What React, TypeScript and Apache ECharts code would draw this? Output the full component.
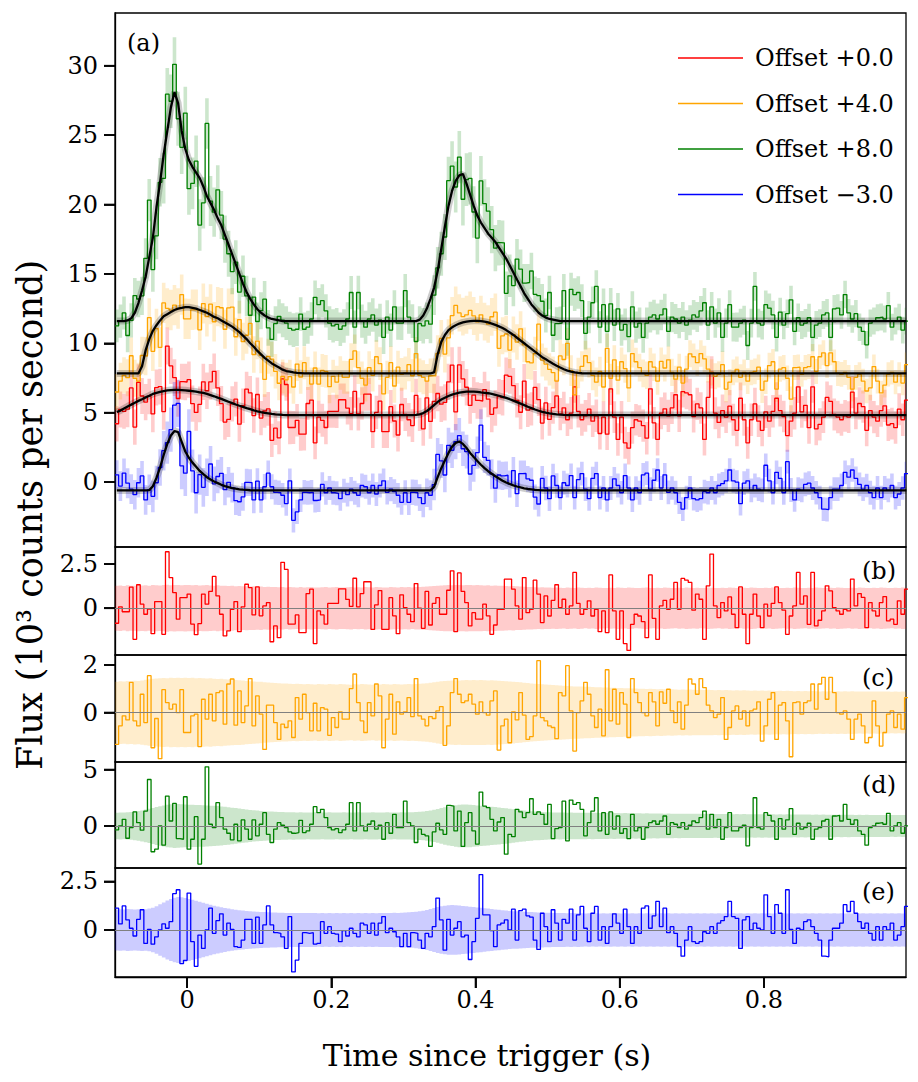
import { useEffect, useRef } from "react";
import * as echarts from "echarts";

const FONT = "'DejaVu Serif', serif";

// ---- time grid ----
const T_START = -0.1;
const BIN_WIDTH = 0.005;
const N_BINS = 220;
const X_MIN = -0.1;
const X_MAX = 0.997;
const X_TICKS = [0, 0.2, 0.4, 0.6, 0.8];

// ---- axes ----
const MAIN_Y_TICKS = [0, 5, 10, 15, 20, 25, 30];
const B_TICKS = [0, 2.5];
const C_TICKS = [0, 2];
const D_TICKS = [0, 5];
const E_TICKS = [0, 2.5];
const MAIN_RANGE = [-4.68, 33.8];
const B_RANGE = [-2.65, 3.47];
const C_RANGE = [-2.08, 2.42];
const D_RANGE = [-3.73, 5.67];
const E_RANGE = [-2.42, 3.19];

const OFFSETS = [0, 4, 8, -3];
const LEGEND_LABELS = ["Offset +0.0", "Offset +4.0", "Offset +8.0", "Offset \u22123.0"];
const PANEL_LABELS = ["(a)", "(b)", "(c)", "(d)", "(e)"];

// ---- models (10^3 counts/s, before offset), one value per bin ----
const RED_MODEL = [
5.05,5.15,5.3,5.45,5.58,5.72,5.85,5.97,6.1,6.22,6.35,6.43,6.5,6.56,6.6,6.63,6.64,6.64,6.63,6.61,
6.58,6.55,6.52,6.47,6.42,6.35,6.27,6.18,6.08,5.99,5.89,5.79,5.69,5.59,5.5,5.42,5.33,5.25,5.17,5.1,
5.04,4.99,4.95,4.91,4.88,4.86,4.84,4.83,4.83,4.83,4.83,4.83,4.83,4.83,4.83,4.83,4.83,4.83,4.83,4.83,
4.83,4.83,4.83,4.83,4.83,4.83,4.83,4.83,4.83,4.83,4.83,4.83,4.83,4.83,4.83,4.83,4.83,4.83,4.83,4.83,
4.83,4.83,4.83,4.84,4.88,4.97,5.12,5.32,5.55,5.78,5.95,6.08,6.2,6.3,6.38,6.44,6.48,6.51,6.52,6.52,
6.5,6.46,6.43,6.4,6.35,6.29,6.22,6.14,6.06,5.97,5.87,5.76,5.65,5.54,5.43,5.33,5.23,5.14,5.06,5.0,
4.95,4.91,4.88,4.86,4.84,4.83,4.83,4.83,4.83,4.83,4.83,4.83,4.83,4.83,4.83,4.83,4.83,4.83,4.83,4.83,
4.83,4.83,4.83,4.83,4.83,4.83,4.83,4.83,4.83,4.83,4.83,4.83,4.83,4.83,4.83,4.83,4.83,4.83,4.83,4.83,
4.83,4.83,4.83,4.83,4.83,4.83,4.83,4.83,4.83,4.83,4.83,4.83,4.83,4.83,4.83,4.83,4.83,4.83,4.83,4.83,
4.83,4.83,4.83,4.83,4.83,4.83,4.83,4.83,4.83,4.83,4.83,4.83,4.83,4.83,4.83,4.83,4.83,4.83,4.83,4.83,
4.83,4.83,4.83,4.83,4.83,4.83,4.83,4.83,4.83,4.83,4.83,4.83,4.83,4.83,4.83,4.83,4.83,4.83,4.83,4.83,
];
const ORANGE_MODEL = [
3.83,3.83,3.83,3.83,3.83,3.83,3.83,4.35,5.5,6.3,6.9,7.3,7.65,7.95,8.1,8.25,8.4,8.5,8.55,8.6,
8.6,8.55,8.5,8.4,8.3,8.2,8.05,7.9,7.8,7.65,7.5,7.35,7.2,7.0,6.8,6.55,6.3,6.0,5.75,5.45,
5.2,4.95,4.75,4.55,4.4,4.25,4.1,4.0,3.95,3.9,3.87,3.85,3.83,3.83,3.83,3.83,3.83,3.83,3.83,3.83,
3.83,3.83,3.83,3.83,3.83,3.83,3.83,3.83,3.83,3.83,3.83,3.83,3.83,3.83,3.83,3.83,3.83,3.83,3.83,3.83,
3.83,3.83,3.83,3.83,3.83,3.83,3.83,3.83,3.9,5.2,6.1,6.6,6.95,7.15,7.3,7.42,7.5,7.56,7.6,7.62,
7.62,7.6,7.56,7.5,7.42,7.33,7.22,7.1,6.95,6.78,6.6,6.4,6.2,6.0,5.8,5.6,5.4,5.2,5.0,4.85,
4.68,4.52,4.38,4.25,4.13,4.03,3.96,3.9,3.86,3.84,3.83,3.83,3.83,3.83,3.83,3.83,3.83,3.83,3.83,3.83,
3.83,3.83,3.83,3.83,3.83,3.83,3.83,3.83,3.83,3.83,3.83,3.83,3.83,3.83,3.83,3.83,3.83,3.83,3.83,3.83,
3.83,3.83,3.83,3.83,3.83,3.83,3.83,3.83,3.83,3.83,3.83,3.83,3.83,3.83,3.83,3.83,3.83,3.83,3.83,3.83,
3.83,3.83,3.83,3.83,3.83,3.83,3.83,3.83,3.83,3.83,3.83,3.83,3.83,3.83,3.83,3.83,3.83,3.83,3.83,3.83,
3.83,3.83,3.83,3.83,3.83,3.83,3.83,3.83,3.83,3.83,3.83,3.83,3.83,3.83,3.83,3.83,3.83,3.83,3.83,3.83,
];
const GREEN_MODEL = [
3.6,3.6,3.6,3.65,3.8,4.2,4.9,5.8,6.8,8.2,9.6,11.8,13.6,15.6,17.3,19.0,20.1,19.3,17.3,16.0,
15.2,14.7,14.3,13.9,13.3,12.6,12.1,11.6,11.0,10.5,9.8,9.1,8.4,7.7,7.0,6.3,5.7,5.2,4.8,4.45,
4.2,4.0,3.85,3.75,3.7,3.65,3.6,3.6,3.6,3.6,3.6,3.6,3.6,3.6,3.6,3.6,3.6,3.6,3.6,3.6,
3.6,3.6,3.6,3.6,3.6,3.6,3.6,3.6,3.6,3.6,3.6,3.6,3.6,3.6,3.6,3.6,3.6,3.6,3.6,3.6,
3.6,3.6,3.6,3.6,3.7,4.0,4.5,5.2,6.0,7.2,8.8,10.4,11.9,13.0,13.7,14.1,14.2,13.5,12.7,11.9,
11.2,10.7,10.3,9.9,9.6,9.3,8.9,8.5,8.1,7.6,7.1,6.6,6.1,5.6,5.2,4.8,4.5,4.2,4.0,3.85,
3.75,3.7,3.65,3.6,3.6,3.6,3.6,3.6,3.6,3.6,3.6,3.6,3.6,3.6,3.6,3.6,3.6,3.6,3.6,3.6,
3.6,3.6,3.6,3.6,3.6,3.6,3.6,3.6,3.6,3.6,3.6,3.6,3.6,3.6,3.6,3.6,3.6,3.6,3.6,3.6,
3.6,3.6,3.6,3.6,3.6,3.6,3.6,3.6,3.6,3.6,3.6,3.6,3.6,3.6,3.6,3.6,3.6,3.6,3.6,3.6,
3.6,3.6,3.6,3.6,3.6,3.6,3.6,3.6,3.6,3.6,3.6,3.6,3.6,3.6,3.6,3.6,3.6,3.6,3.6,3.6,
3.6,3.6,3.6,3.6,3.6,3.6,3.6,3.6,3.6,3.6,3.6,3.6,3.6,3.6,3.6,3.6,3.6,3.6,3.6,3.6,
];
const BLUE_MODEL = [
2.4,2.4,2.4,2.4,2.4,2.4,2.4,2.4,2.4,2.42,2.7,3.3,4.05,4.95,5.75,6.35,6.68,6.6,5.9,5.2,
4.75,4.4,4.1,3.8,3.57,3.35,3.18,3.04,2.92,2.8,2.71,2.63,2.57,2.52,2.48,2.45,2.43,2.41,2.4,2.4,
2.4,2.4,2.4,2.4,2.4,2.4,2.4,2.4,2.4,2.4,2.4,2.4,2.4,2.4,2.4,2.4,2.4,2.4,2.4,2.4,
2.4,2.4,2.4,2.4,2.4,2.4,2.4,2.4,2.4,2.4,2.4,2.4,2.4,2.4,2.4,2.4,2.4,2.4,2.4,2.4,
2.4,2.4,2.4,2.4,2.4,2.4,2.4,2.4,2.65,3.35,4.0,4.55,5.1,5.55,5.82,5.92,5.75,5.45,5.1,4.8,
4.52,4.25,4.0,3.78,3.6,3.42,3.25,3.1,2.97,2.86,2.76,2.68,2.61,2.55,2.5,2.47,2.44,2.42,2.4,2.4,
2.4,2.4,2.4,2.4,2.4,2.4,2.4,2.4,2.4,2.4,2.4,2.4,2.4,2.4,2.4,2.4,2.4,2.4,2.4,2.4,
2.4,2.4,2.4,2.4,2.4,2.4,2.4,2.4,2.4,2.4,2.4,2.4,2.4,2.4,2.4,2.4,2.4,2.4,2.4,2.4,
2.4,2.4,2.4,2.4,2.4,2.4,2.4,2.4,2.4,2.4,2.4,2.4,2.4,2.4,2.4,2.4,2.4,2.4,2.4,2.4,
2.4,2.4,2.4,2.4,2.4,2.4,2.4,2.4,2.4,2.4,2.4,2.4,2.4,2.4,2.4,2.4,2.4,2.4,2.4,2.4,
2.4,2.4,2.4,2.4,2.4,2.4,2.4,2.4,2.4,2.4,2.4,2.4,2.4,2.4,2.4,2.4,2.4,2.4,2.4,2.4,
];

// ---- residuals (data - model), one value per bin ----
const RED_RESID = [
-0.85,0.08,-0.2,-0.2,1.2,-1.76,1.33,0.23,-0.34,-0.05,
-1.44,0.38,0.38,-1.48,3.2,1.74,0.89,-0.62,0.6,0.6,
0.8,-0.9,-1.5,-0.87,0.8,0.23,0.95,1.8,0.7,-0.34,
-1.57,-1.28,-0.06,0.38,-1.33,0.08,1.36,1.17,-0.38,1.21,
-0.43,0.13,0.32,-1.9,-1.0,-1.67,2.6,2.2,-0.9,-0.9,
-0.38,-1.38,-1.38,0.83,1.08,-2.0,-0.15,-0.38,-0.9,0.27,
0.27,0.27,1.1,1.1,0.5,0.1,1.7,0.08,0.83,1.5,
1.5,-1.2,0.19,1.0,-1.2,-1.2,0.6,-0.43,-1.44,0.76,
0.04,-0.34,-0.76,1.4,0,-1.14,0.95,-0.95,0.27,0.6,
-0.34,-0.34,1.02,2.12,-1.33,2.0,0.95,0.32,-1.0,-0.25,
-0.62,-0.62,0.23,-0.43,-1.48,-0.95,-0.06,-0.06,1.65,1.65,
1.08,0.13,-0.62,1.74,-0.25,-0.06,1.59,0.8,-0.81,0.7,
-0.44,0.45,1.33,0.04,0.51,-0.34,0.13,2.03,0.27,-0.34,
-0.06,0.42,-0.44,-0.06,-1.33,-0.15,-1.38,1.89,-0.15,-1.76,
-0.15,-2.0,-2.39,-0.91,-0.34,-0.44,-0.76,-1.67,1.89,-0.57,
-1.76,0.13,0.45,-0.06,0.51,1.46,-0.06,1.69,1.59,1.46,
-0.11,0.8,0.51,-1.76,1.27,3.07,0.13,-0.53,0.32,-0.15,
0.64,-0.34,-1.1,1.21,-0.34,-2.0,-0.34,0.8,-0.44,-1.1,
0.23,-0.44,0.27,1.21,0.32,-0.11,-1.48,-0.44,0.13,2.03,
0.23,0.7,-0.91,2.03,-1.0,-0.68,-0.15,1.27,0.98,0.04,
-0.15,-0.34,-0.06,-0.15,1.65,0.13,0.83,0.61,-1.1,0.32,
-0.15,-0.44,0.32,0.66,-0.72,-0.62,-0.91,0.42,-0.34,1.08,
];
const ORANGE_RESID = [
-1.34,-0.56,-0.14,-0.31,1.27,-0.35,-0.56,0.77,-0.42,1.55,
-1.48,-0.25,-1.94,0.96,0.42,0.14,0.35,0,0.96,-0.84,
-0.84,-0.14,-0.07,-1.43,0.56,-0.28,0.77,-0.35,0.84,0.91,
-0.49,1.2,1.41,-0.53,0.91,-0.42,0.28,1.43,-0.56,0.7,
-0.07,-1.55,0.31,0.31,-0.42,-1.13,-0.49,-0.63,-0.35,-1.05,
0.63,-0.28,0.77,0,-0.77,0.39,-0.77,0.21,0.14,-0.96,
-0.21,-0.63,0.03,-0.28,-0.28,1.01,1.62,0.42,-0.35,-0.84,
0.42,-0.14,1.2,0.7,-1.48,-0.28,0.77,-0.91,0.45,-0.07,
0.03,0.63,-0.17,1.43,-0.14,-0.28,-0.56,-0.17,-0.25,0.07,
0.25,-1.38,-0.56,0.84,1.43,0.77,0.42,0.49,0.77,0.35,
-0.07,0.45,0,-0.11,0.49,0.91,-1.58,-0.56,-0.28,-1.27,
0.03,-0.31,0.84,-0.11,-1.13,-1.01,-0.14,2.18,-0.21,-0.35,
-0.56,-0.63,-1.1,0.84,0.7,1.97,0.07,-1.62,0,0.49,
1.27,0.77,-0.14,-0.63,0.14,-0.98,1.8,-0.35,0.98,-0.49,
0.84,0.35,-1.05,1.43,0.84,0.42,0,-0.14,0.84,0.45,
-0.56,0.87,0.39,0.98,0.07,-0.42,0.45,-0.7,0.31,1.41,
1.2,0.77,1.43,1.05,0.31,0.07,-0.21,-0.07,0.63,-1.13,
-0.63,0.07,0.28,-0.28,0.07,-0.56,0.07,0.14,0.45,-1.2,
-0.56,0.56,0.84,-1.13,0.31,0.42,-0.35,-1.86,0.42,0.45,
-0.07,0.42,0.49,1.2,0.14,1.2,1.48,0.56,1.48,0.84,
0,-0.07,0.07,-0.28,-1.13,-0.28,-0.07,-0.56,-1.27,-1.05,
0.49,-0.56,-1.41,-0.84,-0.07,0.07,-0.63,-0.07,-0.7,0.63,
];
const GREEN_RESID = [
-0.35,0,0.59,-1.09,-0.15,1.24,0.29,-0.38,1.32,4.12,
-2.29,-2.06,0,-1.71,2.65,0.44,2.0,-1.12,-1.18,2.59,
-2.06,-1.18,0.82,-3.38,-1.18,5.24,0.15,-0.15,2.06,0.74,
-0.29,-0.65,-1.24,0.15,-1.32,0.53,-0.29,-1.18,0.53,-0.88,
0.15,1.18,-0.74,-1.47,-0.29,0.29,0.06,-0.15,-0.53,-0.65,
-0.59,0.5,-0.59,-0.44,0.15,1.71,1.18,1.47,0.74,-0.15,
-0.35,-0.24,-0.59,-0.35,0.15,2.06,-0.44,2.06,0,-0.44,
0.15,0.44,-0.29,0.06,-1.18,0.29,-0.65,1.03,-0.15,-0.15,
2.2,0.29,0,-1.47,-0.29,-0.74,-0.88,-1.82,-0.53,0.24,
-0.35,-0.74,1.82,1.76,-0.44,1.32,-1.82,0.29,1.18,-0.44,
-1.62,3.0,1.76,1.62,0.59,-0.44,0.35,0.74,-2.5,-0.74,
-0.94,1.47,1.24,0.74,1.18,2.41,1.03,1.24,1.03,0.15,
1.91,-1.12,-0.24,-0.15,2.2,-1.32,2.29,1.91,2.06,1.47,
-0.88,0.29,1.32,2.5,-0.44,1.18,-0.74,1.24,-0.29,0.88,
-0.65,-0.24,-1.12,1.03,-0.44,-0.15,-1.18,-0.15,0.29,0.44,
0.15,0.44,0.88,-0.74,0.29,0.15,-0.15,0.29,-0.29,0.06,
0.44,0.29,0.74,1.32,-0.29,1.03,-0.15,0.59,-1.18,-0.15,
1.18,-0.44,-0.44,-0.15,0.06,-1.76,-0.15,2.5,-0.15,-0.29,
1.18,0.94,0.44,-1.18,0.65,-0.29,0.53,1.53,-0.74,0.24,
-0.29,-0.15,0.24,-1.18,-0.29,-0.15,0.44,0.59,-1.18,0.88,
0.94,0.44,1.91,0.59,0.15,0.53,-0.44,-0.74,-1.71,-0.15,
0,0.24,0.29,0.15,1.12,-0.44,0,0.29,-0.65,0,
];
const BLUE_RESID = [
1.12,0.31,1.24,0.52,0.09,-0.31,0.55,1.04,-0.69,0.03,
-0.73,-0.35,0,0.31,0.09,0.43,1.87,2.07,-1.73,-1.56,
1.9,-0.6,-1.87,-0.26,-0.95,0,1.12,-0.17,0.48,0.83,
-0.26,0.35,0.03,-0.86,-0.9,-0.52,0.55,0.55,-0.69,0.66,
-0.69,0.26,1.24,0.26,-0.14,-0.17,-0.35,-0.95,0.69,-2.16,
-1.55,-0.69,-0.14,-0.17,-0.14,-0.73,-0.69,0.43,-0.17,0.17,
-0.17,-0.21,-0.6,-0.03,-0.31,0.09,-0.17,-0.35,0.35,0.26,
-0.17,0.35,-0.26,0.35,0.69,-0.14,0.09,-0.09,-0.35,-0.86,
-0.17,-0.86,-0.14,-0.17,-0.52,-0.95,-0.17,-0.35,0.17,1.64,
0.52,-1.04,0.55,-0.26,0.09,0.43,-0.35,-0.26,-1.52,-0.6,
0.6,2.85,0.78,0.78,-0.03,-0.86,0.26,0.35,0.52,0,
1.07,-0.52,1.0,1.07,0.73,0.66,-0.52,-1.0,0.86,0.17,
-0.6,1.04,0.35,-0.52,0.55,0.35,1.07,-0.52,0.78,1.21,
0.09,-0.6,0.86,1.21,-0.52,0.17,-0.69,0.17,0.83,0.35,
-0.17,1.07,0.17,-0.69,0.17,-0.17,1.12,1.24,0.09,0.73,
1.47,0.17,1.12,-0.14,0.17,-0.17,-0.86,-1.35,-0.52,0.17,
-0.6,-0.69,-0.6,-0.09,-0.17,0.17,-0.17,0.35,0.48,0.69,
1.47,0.69,0.6,-0.95,0.52,0.69,0,0.35,0.09,0,
1.81,0.69,-0.17,1.3,0.86,-0.17,2.07,0.03,-0.69,0.09,
0,0.43,0.52,0.17,-0.17,-0.52,-1.35,-1.38,-0.52,0.09,
0.09,0.35,1.3,0.95,1.47,0.86,0.43,0.09,0.35,-0.17,
-0.52,0.17,-0.52,0.17,0,0.35,-0.52,-0.26,0.17,1.21,
];

// ---- 1-sigma errors per bin ----
const RED_ERR = [
1.27,1.29,1.26,1.3,1.28,1.27,1.31,1.29,1.3,1.28,1.32,1.3,1.29,1.31,1.33,1.3,1.32,1.31,1.3,1.32,
1.31,1.3,1.32,1.29,1.3,1.31,1.29,1.28,1.3,1.27,1.28,1.26,1.27,1.25,1.26,1.24,1.25,1.23,1.24,1.22,
1.23,1.21,1.22,1.2,1.21,1.19,1.2,1.18,1.2,1.19,1.17,1.2,1.18,1.19,1.2,1.18,1.17,1.19,1.2,1.18,
1.19,1.2,1.18,1.17,1.19,1.2,1.18,1.19,1.17,1.2,1.19,1.18,1.2,1.19,1.17,1.18,1.2,1.19,1.18,1.2,
1.19,1.2,1.18,1.21,1.2,1.22,1.23,1.25,1.26,1.28,1.29,1.3,1.31,1.3,1.32,1.31,1.3,1.32,1.31,1.3,
1.31,1.3,1.29,1.3,1.28,1.29,1.27,1.28,1.26,1.25,1.26,1.24,1.23,1.22,1.21,1.2,1.19,1.18,1.19,1.17,
1.18,1.16,1.17,1.16,1.15,1.17,1.16,1.15,1.17,1.16,1.14,1.16,1.15,1.17,1.16,1.15,1.14,1.16,1.15,1.17,
1.16,1.15,1.17,1.16,1.14,1.15,1.16,1.17,1.15,1.14,1.16,1.15,1.17,1.16,1.15,1.14,1.16,1.15,1.17,1.16,
1.15,1.16,1.14,1.15,1.17,1.16,1.15,1.14,1.16,1.15,1.17,1.16,1.15,1.14,1.16,1.15,1.17,1.16,1.14,1.15,
1.16,1.15,1.17,1.16,1.15,1.14,1.16,1.15,1.17,1.16,1.15,1.14,1.16,1.15,1.17,1.16,1.15,1.14,1.16,1.15,
1.17,1.16,1.15,1.14,1.16,1.15,1.17,1.16,1.15,1.14,1.16,1.15,1.17,1.16,1.15,1.14,1.16,1.15,1.17,1.16,
];
const ORANGE_ERR = [
1.3,1.32,1.31,1.33,1.32,1.34,1.33,1.35,1.38,1.4,1.42,1.43,1.44,1.45,1.44,1.46,1.45,1.46,1.45,1.46,
1.45,1.46,1.44,1.45,1.44,1.43,1.44,1.42,1.41,1.42,1.4,1.39,1.38,1.37,1.36,1.35,1.33,1.32,1.31,1.3,
1.29,1.27,1.26,1.25,1.24,1.23,1.22,1.22,1.21,1.2,1.21,1.2,1.19,1.2,1.19,1.18,1.2,1.19,1.18,1.2,
1.19,1.18,1.2,1.19,1.18,1.17,1.19,1.18,1.2,1.19,1.18,1.17,1.19,1.18,1.2,1.19,1.18,1.2,1.19,1.18,
1.19,1.2,1.19,1.2,1.21,1.22,1.23,1.25,1.27,1.3,1.32,1.33,1.34,1.35,1.36,1.35,1.36,1.37,1.36,1.37,
1.36,1.37,1.36,1.35,1.36,1.35,1.34,1.33,1.32,1.31,1.3,1.28,1.27,1.25,1.24,1.22,1.21,1.2,1.19,1.18,
1.17,1.16,1.15,1.14,1.13,1.12,1.11,1.1,1.1,1.09,1.08,1.08,1.07,1.06,1.06,1.05,1.05,1.04,1.04,1.03,
1.03,1.02,1.02,1.01,1.01,1.0,1.0,0.99,1.0,0.99,0.98,0.99,0.98,0.97,0.98,0.97,0.96,0.97,0.96,0.97,
0.96,0.95,0.96,0.95,0.96,0.95,0.94,0.95,0.94,0.95,0.94,0.93,0.94,0.93,0.94,0.93,0.92,0.93,0.92,0.93,
0.92,0.93,0.92,0.91,0.92,0.91,0.92,0.91,0.9,0.91,0.9,0.91,0.9,0.91,0.9,0.89,0.9,0.89,0.9,0.89,
0.9,0.89,0.9,0.89,0.9,0.89,0.88,0.89,0.88,0.89,0.88,0.89,0.88,0.89,0.88,0.87,0.88,0.87,0.88,0.87,
];
const GREEN_ERR = [
1.18,1.2,1.19,1.21,1.23,1.27,1.32,1.38,1.45,1.52,1.6,1.68,1.75,1.82,1.88,1.92,1.95,1.94,1.92,1.9,
1.88,1.87,1.86,1.85,1.84,1.82,1.8,1.78,1.76,1.73,1.7,1.66,1.62,1.58,1.54,1.5,1.46,1.42,1.39,1.36,
1.33,1.31,1.29,1.27,1.25,1.24,1.23,1.22,1.21,1.22,1.2,1.21,1.2,1.19,1.2,1.21,1.2,1.19,1.2,1.21,
1.2,1.19,1.2,1.21,1.2,1.19,1.2,1.21,1.2,1.19,1.2,1.21,1.2,1.19,1.2,1.21,1.2,1.19,1.2,1.21,
1.2,1.21,1.22,1.23,1.25,1.28,1.32,1.37,1.43,1.5,1.58,1.66,1.73,1.79,1.84,1.88,1.9,1.9,1.88,1.85,
1.82,1.79,1.76,1.73,1.7,1.67,1.64,1.6,1.57,1.53,1.49,1.45,1.41,1.37,1.34,1.31,1.28,1.26,1.24,1.22,
1.21,1.2,1.19,1.2,1.19,1.18,1.19,1.18,1.17,1.18,1.17,1.16,1.17,1.16,1.15,1.16,1.15,1.14,1.15,1.14,
1.13,1.14,1.13,1.12,1.13,1.12,1.11,1.12,1.11,1.1,1.11,1.1,1.09,1.1,1.09,1.08,1.09,1.08,1.07,1.08,
1.07,1.08,1.07,1.06,1.07,1.06,1.05,1.06,1.05,1.06,1.05,1.04,1.05,1.04,1.05,1.04,1.03,1.04,1.03,1.04,
1.03,1.04,1.03,1.02,1.03,1.02,1.03,1.02,1.01,1.02,1.01,1.02,1.01,1.0,1.01,1.0,1.01,1.0,0.99,1.0,
0.99,1.0,0.99,1.0,0.99,0.98,0.99,0.98,0.99,0.98,0.97,0.98,0.97,0.98,0.97,0.96,0.97,0.96,0.97,0.96,
];
const BLUE_ERR = [
1.05,1.07,1.06,1.08,1.07,1.06,1.07,1.08,1.07,1.1,1.15,1.22,1.32,1.42,1.52,1.6,1.66,1.7,1.69,1.65,
1.6,1.55,1.5,1.45,1.4,1.35,1.3,1.25,1.21,1.17,1.13,1.1,1.07,1.04,1.02,1.0,0.98,0.97,0.95,0.94,
0.93,0.92,0.91,0.9,0.9,0.89,0.89,0.88,0.88,0.87,0.88,0.87,0.88,0.87,0.88,0.87,0.86,0.87,0.86,0.87,
0.86,0.87,0.86,0.87,0.86,0.87,0.86,0.87,0.86,0.87,0.86,0.87,0.86,0.87,0.88,0.87,0.88,0.89,0.88,0.89,
0.9,0.91,0.92,0.94,0.96,0.99,1.03,1.08,1.13,1.18,1.22,1.25,1.27,1.28,1.27,1.26,1.24,1.22,1.2,1.18,
1.16,1.14,1.12,1.1,1.08,1.06,1.04,1.02,1.0,0.98,0.97,0.96,0.95,0.94,0.93,0.92,0.91,0.9,0.9,0.89,
0.89,0.88,0.88,0.87,0.87,0.86,0.87,0.86,0.87,0.86,0.85,0.86,0.85,0.86,0.85,0.86,0.85,0.86,0.85,0.86,
0.85,0.86,0.85,0.86,0.85,0.86,0.85,0.86,0.85,0.86,0.85,0.86,0.85,0.86,0.85,0.86,0.85,0.86,0.85,0.86,
0.85,0.86,0.85,0.86,0.85,0.86,0.85,0.86,0.85,0.86,0.85,0.86,0.85,0.86,0.85,0.86,0.85,0.86,0.85,0.86,
0.85,0.86,0.85,0.86,0.85,0.86,0.85,0.86,0.85,0.86,0.85,0.86,0.85,0.86,0.85,0.86,0.85,0.86,0.85,0.86,
0.85,0.86,0.85,0.86,0.85,0.86,0.85,0.86,0.85,0.86,0.85,0.86,0.85,0.86,0.85,0.86,0.85,0.86,0.85,0.86,
];

// ---- derived geometry helpers ----
const EDGES = Array.from({ length: N_BINS + 1 }, (_, i) => +(T_START + i * BIN_WIDTH).toFixed(4));
const CENTERS = Array.from({ length: N_BINS }, (_, i) => +(T_START + (i + 0.5) * BIN_WIDTH).toFixed(4));

const SPECS = [
  { model: RED_MODEL, resid: RED_RESID, err: RED_ERR, color: "#ff0000", band: "rgba(255,0,0,0.2)" },
  { model: ORANGE_MODEL, resid: ORANGE_RESID, err: ORANGE_ERR, color: "#ffa500", band: "rgba(255,165,0,0.2)" },
  { model: GREEN_MODEL, resid: GREEN_RESID, err: GREEN_ERR, color: "#008000", band: "rgba(0,128,0,0.2)" },
  { model: BLUE_MODEL, resid: BLUE_RESID, err: BLUE_ERR, color: "#0000ff", band: "rgba(0,0,255,0.2)" },
];

const GRIDS = [
  { top: 13, height: 534 },
  { top: 547, height: 108 },
  { top: 655, height: 107 },
  { top: 762, height: 106 },
  { top: 868, height: 109 },
];
const Y_RANGES = [MAIN_RANGE, B_RANGE, C_RANGE, D_RANGE, E_RANGE];
const Y_TICKS = [MAIN_Y_TICKS, B_TICKS, C_TICKS, D_TICKS, E_TICKS];

function stepPoints(vals: number[]) {
  return EDGES.map((e, i) => [e, vals[Math.min(i, N_BINS - 1)]]);
}

function bandSeries(lo: number[], hi: number[], fill: string, axis: number) {
  return {
    type: "custom",
    xAxisIndex: axis,
    yAxisIndex: axis,
    silent: true,
    z: 1,
    data: [[X_MIN, 0]],
    renderItem: (_p: any, api: any) => {
      const upper: number[][] = [];
      const lower: number[][] = [];
      for (let i = 0; i < N_BINS; i++) {
        const x0 = Math.max(EDGES[i], X_MIN);
        const x1 = Math.min(EDGES[i + 1], X_MAX);
        if (x1 <= x0) continue;
        upper.push(api.coord([x0, hi[i]]), api.coord([x1, hi[i]]));
        lower.push(api.coord([x0, lo[i]]), api.coord([x1, lo[i]]));
      }
      return { type: "polygon", shape: { points: upper.concat(lower.reverse()) }, style: { fill } };
    },
  };
}

function buildOption() {
  const grid = GRIDS.map((g) => ({
    left: 115,
    width: 791,
    top: g.top,
    height: g.height,
    show: true,
    borderColor: "#000",
    borderWidth: 1.3,
    backgroundColor: "transparent",
  }));

  const xAxis = GRIDS.map((_, k) => ({
    type: "value",
    gridIndex: k,
    position: "bottom",
    min: X_MIN,
    max: X_MAX,
    axisLine: { show: k === 4, onZero: false, lineStyle: { color: "#000", width: 1.3 } },
    splitLine: { show: false },
    axisTick:
      k === 4
        ? { show: true, inside: false, length: 11, lineStyle: { color: "#000", width: 1.8 }, customValues: X_TICKS }
        : { show: false },
    axisLabel:
      k === 4
        ? {
            show: true,
            customValues: X_TICKS,
            margin: 11,
            fontFamily: FONT,
            fontSize: 24,
            color: "#000",
            formatter: (v: number) => (v === 0 ? "0" : v.toFixed(1)),
          }
        : { show: false },
  }));

  const yAxis = GRIDS.map((_, k) => ({
    type: "value",
    gridIndex: k,
    position: "left",
    min: Y_RANGES[k][0],
    max: Y_RANGES[k][1],
    axisLine: { show: true, onZero: false, lineStyle: { color: "#000", width: 1.3 } },
    splitLine: { show: false },
    axisTick: { show: true, inside: false, length: 11, lineStyle: { color: "#000", width: 1.8 }, customValues: Y_TICKS[k] },
    axisLabel: {
      show: true,
      customValues: Y_TICKS[k],
      margin: 17,
      fontFamily: FONT,
      fontSize: 24,
      color: "#000",
      formatter: (v: number) => String(v),
    },
  }));

  const series: any[] = [];

  // main panel bands
  SPECS.forEach((s, k) => {
    const obs = s.model.map((m, i) => m + s.resid[i] + OFFSETS[k]);
    const lo = obs.map((v, i) => v - s.err[i]);
    const hi = obs.map((v, i) => v + s.err[i]);
    series.push(bandSeries(lo, hi, s.band, 0));
  });
  // main panel data
  SPECS.forEach((s, k) => {
    const obs = s.model.map((m, i) => m + s.resid[i] + OFFSETS[k]);
    series.push({
      type: "line",
      name: LEGEND_LABELS[k],
      xAxisIndex: 0,
      yAxisIndex: 0,
      step: "end",
      data: stepPoints(obs),
      symbol: "none",
      lineStyle: { color: s.color, width: 1.3 },
      itemStyle: { color: s.color },
      z: 2,
      silent: true,
    });
  });
  // model curves (halo + line)
  SPECS.forEach((s, k) => {
    const pts = CENTERS.map((c, i) => [c, s.model[i] + OFFSETS[k]]);
    series.push({
      type: "line",
      name: "halo" + k,
      xAxisIndex: 0,
      yAxisIndex: 0,
      data: pts,
      symbol: "none",
      lineStyle: { color: "rgba(0,0,0,0.2)", width: 7 },
      z: 3,
      silent: true,
    });
    series.push({
      type: "line",
      name: "model" + k,
      xAxisIndex: 0,
      yAxisIndex: 0,
      data: pts,
      symbol: "none",
      lineStyle: { color: "#000", width: 2.3 },
      z: 4,
      silent: true,
    });
  });
  // residual panels
  SPECS.forEach((s, k) => {
    const ax = k + 1;
    series.push(bandSeries(s.err.map((e) => -e), s.err, s.band, ax));
    series.push({
      type: "line",
      name: "resid" + k,
      xAxisIndex: ax,
      yAxisIndex: ax,
      step: "end",
      data: stepPoints(s.resid),
      symbol: "none",
      lineStyle: { color: s.color, width: 1.3 },
      itemStyle: { color: s.color },
      z: 2,
      silent: true,
      markLine: {
        silent: true,
        symbol: "none",
        label: { show: false },
        lineStyle: { color: "#808080", width: 1, type: "solid" },
        data: [{ yAxis: 0 }],
      },
    });
  });

  // outward tick marks, placed through each panel's own axes
  GRIDS.forEach((_, k) => {
    series.push({
      type: "scatter",
      name: "yticks" + k,
      xAxisIndex: k,
      yAxisIndex: k,
      data: Y_TICKS[k].map((v) => [X_MIN, v]),
      symbol: "rect",
      symbolSize: [11, 1.8],
      symbolOffset: [-5.5, 0],
      itemStyle: { color: "#000" },
      clip: false,
      silent: true,
      z: 10,
    });
  });
  series.push({
    type: "scatter",
    name: "xticks",
    xAxisIndex: 4,
    yAxisIndex: 4,
    data: X_TICKS.map((v) => [v, E_RANGE[0]]),
    symbol: "rect",
    symbolSize: [1.8, 11],
    symbolOffset: [0, 5.5],
    itemStyle: { color: "#000" },
    clip: false,
    silent: true,
    z: 10,
  });

  const labelPos = [
    [127, 43],
    [862, 571],
    [862, 678],
    [862, 785],
    [862, 892],
  ];

  const graphic: any[] = PANEL_LABELS.map((t, k) => ({
    type: "text",
    x: labelPos[k][0],
    y: labelPos[k][1],
    silent: true,
    style: {
      text: t,
      fontFamily: FONT,
      fontSize: 24,
      fill: "#000",
      textAlign: "left",
      textVerticalAlign: "middle",
      verticalAlign: "middle",
    },
  }));
  graphic.push({
    type: "text",
    x: 487,
    y: 1055,
    silent: true,
    style: {
      text: "Time since trigger (s)",
      fontFamily: FONT,
      fontSize: 30,
      fill: "#000",
      textAlign: "center",
      textVerticalAlign: "middle",
      verticalAlign: "middle",
    },
  });
  graphic.push({
    type: "text",
    x: 30,
    y: 515,
    rotation: Math.PI / 2,
    silent: true,
    style: {
      text: "Flux (10\u00b3 counts per second)",
      fontFamily: FONT,
      fontSize: 35,
      fill: "#000",
      textAlign: "center",
      textVerticalAlign: "middle",
      verticalAlign: "middle",
    },
  });

  return {
    animation: false,
    backgroundColor: "#fff",
    grid,
    xAxis,
    yAxis,
    legend: {
      data: LEGEND_LABELS,
      orient: "vertical",
      left: 673,
      top: 40,
      itemWidth: 65,
      itemHeight: 1.6,
      itemGap: 19.5,
      icon: "rect",
      selectedMode: false,
      textStyle: { fontFamily: FONT, fontSize: 24, color: "#000", lineHeight: 26, padding: [0, 0, 0, 7] },
    },
    graphic,
    series,
  };
}

export default function App() {
  const ref = useRef<HTMLDivElement>(null);
  useEffect(() => {
    const chart = echarts.init(ref.current!, null, { renderer: "svg" });
    chart.setOption(buildOption() as any);
    return () => chart.dispose();
  }, []);
  return (
    <div
      ref={ref}
      style={{ position: "fixed", left: 0, top: 0, width: 918, height: 1082, background: "#fff" }}
    />
  );
}
